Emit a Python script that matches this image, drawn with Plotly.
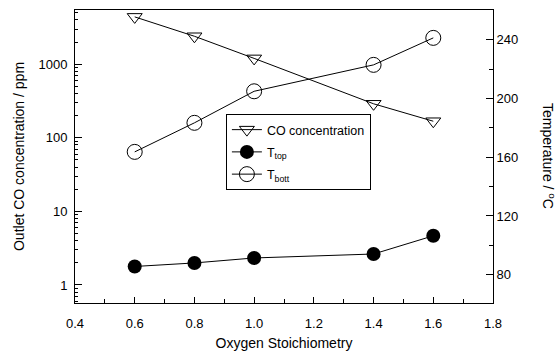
import plotly.graph_objects as go

x_vals = [0.6, 0.8, 1.0, 1.4, 1.6]
co_ppm = [4400, 2400, 1200, 290, 168]
t_top = [85.6, 88.0, 91.4, 94.1, 106.5]
t_bott = [163.7, 183.5, 205.0, 223.0, 241.4]

x_ticks = [0.4, 0.6, 0.8, 1.0, 1.2, 1.4, 1.6, 1.8]
y_ticks = [1, 10, 100, 1000]
y_minor_ticks = [0.6, 0.7, 0.8, 0.9,
                 2, 3, 4, 5, 6, 7, 8, 9,
                 20, 30, 40, 50, 60, 70, 80, 90,
                 200, 300, 400, 500, 600, 700, 800, 900,
                 2000, 3000, 4000, 5000]
y2_ticks = [80, 120, 160, 200, 240]

font = "Liberation Sans, Arial, sans-serif"
line = dict(color="black", width=1)

fig = go.Figure()
fig.add_trace(go.Scatter(
    x=x_vals, y=co_ppm, name="CO concentration", mode="lines+markers",
    line=line, legendgroup="a",
    marker=dict(symbol="triangle-down-open", size=13, color="black", line=dict(width=1)),
    yaxis="y"))
fig.add_trace(go.Scatter(
    x=x_vals, y=t_top, name="T<sub>top</sub>", mode="lines+markers",
    line=line, legendgroup="b",
    marker=dict(symbol="circle", size=14, color="black"),
    yaxis="y2"))
fig.add_trace(go.Scatter(
    x=x_vals, y=t_bott, name="T<sub>bott</sub>", mode="lines+markers",
    line=line, legendgroup="c",
    marker=dict(symbol="circle-open", size=15, color="black", line=dict(width=1)),
    yaxis="y2"))

fig.update_layout(
    width=557, height=353,
    margin=dict(l=75, r=64, t=10, b=50),
    paper_bgcolor="white", plot_bgcolor="white",
    font=dict(family=font, size=13, color="black"),
    showlegend=True,
    legend=dict(x=0.361, y=0.645, xanchor="left", yanchor="top",
                bordercolor="black", borderwidth=1, bgcolor="white",
                font=dict(size=12.5), tracegroupgap=3, itemwidth=30),
    xaxis=dict(range=[0.4, 1.8], tickvals=x_ticks, ticktext=[f"{v:.1f}" for v in x_ticks],
               ticks="inside", ticklen=6, tickcolor="black", ticklabelstandoff=8,
               minor=dict(ticks="inside", dtick=0.1, ticklen=4, tickcolor="black"),
               showline=True, linecolor="black", linewidth=1, mirror=True,
               showgrid=False, zeroline=False, automargin=False,
               title=dict(text="Oxygen Stoichiometry", font=dict(size=14), standoff=8)),
    yaxis=dict(type="log", range=[-0.245, 3.737], tickvals=y_ticks,
               ticktext=[str(v) for v in y_ticks],
               ticks="inside", ticklen=7, tickcolor="black", ticklabelstandoff=4,
               minor=dict(ticks="inside", tickvals=y_minor_ticks, ticklen=3, tickcolor="black"),
               showline=True, linecolor="black", linewidth=1,
               showgrid=False, zeroline=False, automargin=False,
               title=dict(text="Outlet CO concentration / ppm", font=dict(size=14), standoff=10)),
    yaxis2=dict(overlaying="y", side="right", range=[60.7, 260.4], tickvals=y2_ticks,
                ticks="inside", ticklen=7, tickcolor="black",
                minor=dict(ticks="inside", dtick=20, ticklen=4, tickcolor="black"),
                showline=True, linecolor="black", linewidth=1,
                showgrid=False, zeroline=False, automargin=False),
    annotations=[dict(text="Temperature / <sup>o</sup>C", textangle=90,
                      xref="paper", yref="paper", x=1.135, y=0.5,
                      xanchor="center", yanchor="middle", showarrow=False,
                      font=dict(size=14))],
)

fig.write_html("out.html")
